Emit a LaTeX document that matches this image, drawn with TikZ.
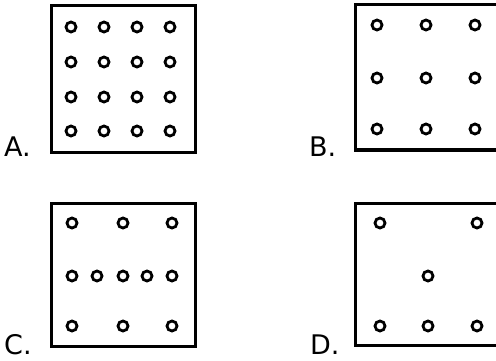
\documentclass[tikz,border=0pt]{standalone}
\usepackage{fontspec}
\setmainfont{DejaVu Sans}
\begin{document}
\begin{tikzpicture}[x=1pt,y=-1pt,
  frame/.style={line width=3pt},
  dot/.style={circle,draw,line width=2.8pt,minimum size=10pt,inner sep=0pt},
  lbl/.style={anchor=base west,inner sep=0pt,font=\fontsize{27}{32}\selectfont}]
\useasboundingbox (0,0) rectangle (496,361);
\fill[white] (0,0) rectangle (496,361);
% A
\draw[frame] (51,6) rectangle (195,152);
\foreach \x [count=\i] in {71,104,137,170}
  \foreach \y [count=\j] in {27,62,97,131}
    \node[dot] (a\i\j) at (\x,\y) {};
\node[lbl] (la) at (4,157) {A.};
% B
\draw[frame] (500,5) -- (355,5) -- (355,150) -- (500,150);
\foreach \x [count=\i] in {377,426,475}
  \foreach \y [count=\j] in {25,78,129}
    \node[dot] (b\i\j) at (\x,\y) {};
\node[lbl] (lb) at (309,157) {B.};
% C
\draw[frame] (51,203) rectangle (195,346);
\foreach \x [count=\i] in {72,123,172}{
  \node[dot] (c1\i) at (\x,223) {};
  \node[dot] (c3\i) at (\x,326) {};}
\foreach \x [count=\i] in {72,97,123,147,172}
  \node[dot] (c2\i) at (\x,276) {};
\node[lbl] (lc) at (4,354) {C.};
% D
\draw[frame] (500,203) -- (355,203) -- (355,345) -- (500,345);
\node[dot] (d11) at (380,223) {};
\node[dot] (d13) at (477,223) {};
\node[dot] (d22) at (428,276) {};
\foreach \x [count=\i] in {380,428,477}
  \node[dot] (d3\i) at (\x,326) {};
\node[lbl] (ld) at (310,354) {D.};
\end{tikzpicture}
\end{document}
